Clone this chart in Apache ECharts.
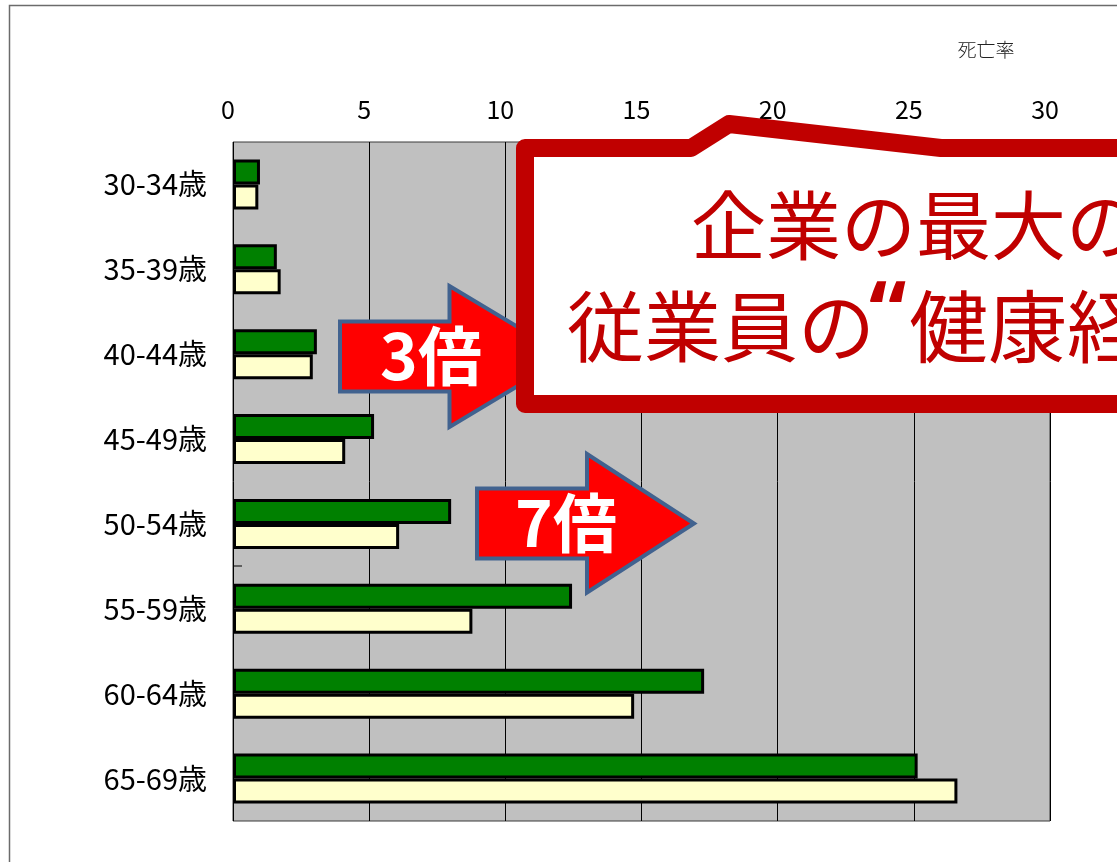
<!DOCTYPE html>
<html><head><meta charset="utf-8">
<script src="https://cdn.jsdelivr.net/npm/echarts@6/dist/echarts.min.js"></script>
<style>html,body{margin:0;padding:0;background:#fff}#c{width:1117px;height:862px}</style>
</head><body><div id="c"></div>
<script>
// ---- data ----
const categories = ['30-34歳', '35-39歳', '40-44歳', '45-49歳', '50-54歳', '55-59歳', '60-64歳', '65-69歳'];
const rateGreen  = [0.99, 1.61, 3.08, 5.18, 8.01, 12.45, 17.3, 25.14];
const rateYellow = [0.93, 1.75, 2.93, 4.12, 6.1, 8.79, 14.73, 26.6];
const axisTitle = '死亡率';
const calloutLine1 = '企業の最大の資産';
const calloutLine2a = '従業員の';
const calloutQuote = '“';
const calloutLine2b = '健康経営”';
const arrowLabels = ['3倍', '7倍'];

const chart = echarts.init(document.getElementById('c'), null, {renderer: 'canvas'});
const CJK = '"Noto Sans CJK JP", "Noto Sans", sans-serif';
const RED = '#c00000';
const ARROW_STROKE = '#41628f';
function txt(x, y, text, size, color, extra) {
  return Object.assign({type: 'text', z: 111, x: x, y: y,
    style: Object.assign({text: text, fill: color, fontSize: size, fontFamily: CJK,
      align: 'left', verticalAlign: 'middle', textAlign: 'left', textVerticalAlign: 'middle'}, extra || {})});
}

const option = {
  backgroundColor: '#ffffff',
  animation: false,
  grid: {
    left: 233, top: 142, right: 67, bottom: 41,
    show: true, backgroundColor: '#c0c0c0', borderColor: '#3a3a3a', borderWidth: 1
  },
  xAxis: {
    type: 'value', position: 'top', min: 0, max: 30, interval: 5,
    axisLine: {show: false}, axisTick: {show: false},
    axisLabel: {fontSize: 25, color: '#000', margin: 20, fontFamily: CJK, padding: [0, 10, 0, 0]},
    splitLine: {show: true, lineStyle: {color: '#000', width: 1}}
  },
  yAxis: {
    type: 'category', inverse: true, data: categories,
    axisLine: {show: false}, axisTick: {show: false},
    axisLabel: {fontSize: 29, color: '#000', margin: 26, fontFamily: CJK}
  },
  series: [
    {type: 'bar', name: '系列1', data: rateGreen, barWidth: 25, barGap: '0%',
     itemStyle: {color: '#008000', borderColor: '#000', borderWidth: 3}},
    {type: 'bar', name: '系列2', data: rateYellow, barWidth: 25, barGap: '0%',
     itemStyle: {color: '#ffffcc', borderColor: '#000', borderWidth: 3}}
  ],
  graphic: [
    {type: 'rect', z: 1, shape: {x: 9.5, y: 5.5, width: 1300, height: 1000},
     style: {fill: 'none', stroke: '#6b6b6b', lineWidth: 1.5}},
    {type: 'text', z: 100, x: 986, y: 50,
     style: {text: axisTitle, fill: '#222', fontSize: 19, fontFamily: CJK, fontWeight: 300,
             align: 'center', verticalAlign: 'middle', textAlign: 'center', textVerticalAlign: 'middle'}},
    {type: 'line', z: 100, shape: {x1: 233, y1: 566, x2: 242, y2: 566}, style: {stroke: '#000', lineWidth: 1}},
    {type: 'polygon', z: 100,
     shape: {points: [[340, 321.5], [449.5, 321.5], [449.5, 286], [567, 356.5], [449.5, 427], [449.5, 391.5], [340, 391.5]]},
     style: {fill: '#ff0000', stroke: ARROW_STROKE, lineWidth: 4, lineJoin: 'miter'}},
    {type: 'text', z: 101, x: 431, y: 356,
     style: {text: arrowLabels[0], fill: '#fff', fontSize: 64, fontWeight: 'bold', fontFamily: CJK,
             align: 'center', verticalAlign: 'middle', textAlign: 'center', textVerticalAlign: 'middle'}},
    {type: 'polygon', z: 100,
     shape: {points: [[477, 488.5], [587, 488.5], [587, 454], [694, 523.5], [587, 592.5], [587, 558.5], [477, 558.5]]},
     style: {fill: '#ff0000', stroke: ARROW_STROKE, lineWidth: 4, lineJoin: 'miter'}},
    {type: 'text', z: 101, x: 566, y: 523,
     style: {text: arrowLabels[1], fill: '#fff', fontSize: 64, fontWeight: 'bold', fontFamily: CJK,
             align: 'center', verticalAlign: 'middle', textAlign: 'center', textVerticalAlign: 'middle'}},
    {type: 'polygon', z: 110,
     shape: {points: [[525, 148], [691, 148], [729, 124], [941, 148], [1300, 148], [1300, 404], [525, 404]]},
     style: {fill: '#ffffff', stroke: RED, lineWidth: 18, lineJoin: 'round'}},
    txt(691, 225, calloutLine1, 75, RED),
    txt(567, 327, calloutLine2a, 77, RED),
    txt(869, 318, calloutQuote, 84, RED, {fontFamily: '"Noto Sans", sans-serif', fontWeight: 'bold'}),
    txt(909, 327, calloutLine2b, 79, RED)
  ]
};
chart.setOption(option);
</script>
</body></html>
